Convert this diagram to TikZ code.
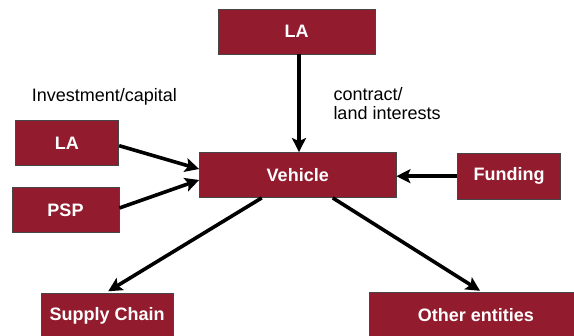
\documentclass[tikz,border=0pt]{standalone}
\usepackage{fontspec}
\setmainfont{Liberation Sans}
\usetikzlibrary{arrows.meta,calc}
\definecolor{boxred}{RGB}{146,27,46}
\definecolor{boxedge}{RGB}{70,70,70}
\tikzset{
  redbox/.style={draw=boxedge, line width=0.8pt, fill=boxred, text=white,
    font=\fontsize{18}{20}\selectfont\bfseries, inner sep=0pt},
  arr/.style={line width=3.6pt, draw=black,
    -{Stealth[length=14pt,width=14pt,inset=3pt]}},
  lbl/.style={font=\fontsize{18}{19.5}\selectfont, text=black, inner sep=0pt,
    anchor=west, align=left}
}
\begin{document}
\begin{tikzpicture}[x=1pt,y=-1pt]
\useasboundingbox (0,0) rectangle (574,336);
\fill[white] (0,0) rectangle (574,336);
% boxes
\node[redbox, minimum width=157pt, minimum height=44.5pt] (laTop) at (296.5,31.75) {LA};
\node[redbox, minimum width=196.5pt, minimum height=45pt] (veh) at (297.75,175) {Vehicle};
\node[redbox, minimum width=103.7pt, minimum height=45pt] (laLeft) at (66.9,143.2) {LA};
\node[redbox, minimum width=107pt, minimum height=45.7pt] (psp) at (65.5,209.9) {PSP};
\node[redbox, minimum width=103.4pt, minimum height=45.7pt] (fund) at (509,176.2) {Funding};
\node[redbox, minimum width=132.3pt, minimum height=45pt] (sc) at (107.2,316.2) {Supply Chain};
\node[redbox, minimum width=214pt, minimum height=45pt] (oth) at (476,315.2) {Other entities};
% labels
\node[lbl] (inv) at (31.7,96.7) {Investment/capital};
\node[lbl] (con) at (333.3,103.7) {contract/\\land interests};
% connectors
\draw[arr] ($(laTop.south)+(2.5,0)$) -- ($(veh.north)+(1.25,0)$);
\draw[arr] ($(laLeft.east)+(0,2.5)$) -- ($(veh.west)+(0,-6)$);
\draw[arr] ($(psp.east)+(0,-1.9)$) -- ($(veh.west)+(0,5)$);
\draw[arr] (fund.west) -- (fund.west -| veh.east);
\draw[arr] ($(veh.south)+(-36,0)$) -- ($(sc.north)+(1,-2)$);
\draw[arr] ($(veh.south)+(35,0)$) -- ($(oth.north)+(4,-1.5)$);
\end{tikzpicture}
\end{document}
